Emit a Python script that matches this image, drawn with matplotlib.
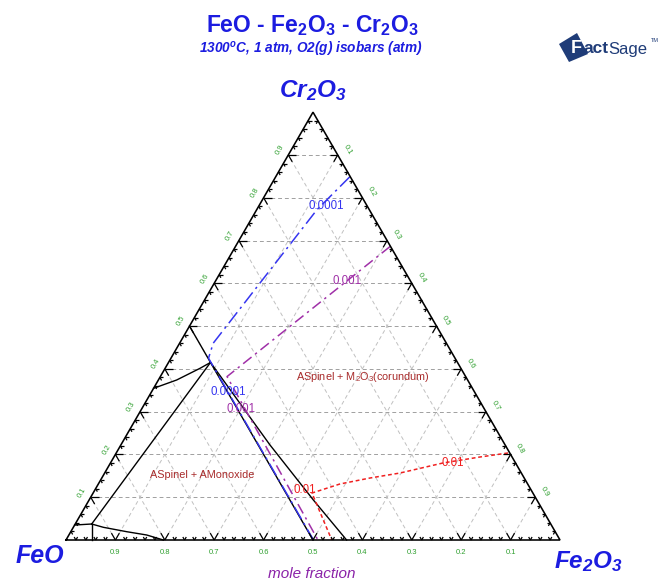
import numpy as np
import matplotlib
matplotlib.use('Agg')
import matplotlib.pyplot as plt
from matplotlib.collections import LineCollection
from matplotlib.patches import Polygon

plt.rcParams['font.family'] = ['Liberation Sans', 'DejaVu Sans']
plt.rcParams['mathtext.default'] = 'regular'

# ---------------- data (mole fractions: Cr2O3 = c, Fe2O3 = f, FeO = 1-c-f) -------------
grid_values = [0.1, 0.2, 0.3, 0.4, 0.5, 0.6, 0.7, 0.8, 0.9]
tick_labels = ['0.1', '0.2', '0.3', '0.4', '0.5', '0.6', '0.7', '0.8', '0.9']

# phase boundaries (black)
spinel_cr = [0.50, 0.0]
spinel_fe = [0.00, 0.50]
right_bnd_cr = [0.415, 0.222, 0.0935, 0.0]
right_bnd_fe = [0.085, 0.302, 0.454, 0.568]
upper_left_cr = [0.3546, 0.374, 0.4013, 0.415]
upper_left_fe = [0.0, 0.037, 0.0706, 0.085]
mono_bnd_cr = [0.415, 0.0374]
mono_bnd_fe = [0.085, 0.0333]
corner_left_cr = [0.0374, 0.035]
corner_left_fe = [0.0333, 0.0]
corner_vert_cr = [0.0374, 0.0]
corner_vert_fe = [0.0333, 0.052]
corner_curve_cr = [0.0374, 0.0297, 0.0194, 0.0117, 0.0]
corner_curve_fe = [0.0333, 0.0607, 0.1132, 0.1575, 0.197]

# O2 isobars
iso_1e4_cr = [0.849, 0.772, 0.460, 0.425, 0.0]
iso_1e4_fe = [0.150, 0.122, 0.068, 0.076, 0.501]
iso_1e3_cr = [0.686, 0.382, 0.0]
iso_1e3_fe = [0.313, 0.135, 0.510]
iso_1e2_cr = [0.2034, 0.194, 0.180, 0.1566, 0.1449, 0.1309, 0.1098, 0.0]
iso_1e2_fe = [0.793, 0.741, 0.673, 0.598, 0.543, 0.489, 0.443, 0.538]
iso_names = ['0.0001', '0.001', '0.01']

S3 = np.sqrt(3) / 2


def tern(c, f):
    c = np.asarray(c, float)
    f = np.asarray(f, float)
    return f + c / 2, c * S3


fig = plt.figure(figsize=(6.69, 5.85), dpi=100)
ax = fig.add_axes([0, 0, 1, 1])
X0, Y0, SIDE = 66, 540, 494
W, H = 669, 585
ax.set_xlim(-X0 / SIDE, (W - X0) / SIDE)
ax.set_ylim(-(H - Y0) / SIDE, Y0 / SIDE)
ax.axis('off')


def px(xp, yp):
    return (xp - X0) / SIDE, (Y0 - yp) / SIDE


# grid
for v in grid_values:
    ax.plot(*tern([v, v], [0, 1 - v]), ls=(0, (4, 3)), color='#a0a0a0', lw=0.7, zorder=1)
    ax.plot(*tern([0, 1 - v], [v, v]), ls=(0, (4, 3)), color='#c0c0c0', lw=0.7, zorder=1)
    ax.plot(*tern([0, 1 - v], [1 - v, 0]), ls=(0, (4, 3)), color='#c0c0c0', lw=0.7, zorder=1)

# triangle
ax.plot(*tern([0, 1, 0, 0], [0, 0, 1, 0]), color='black', lw=1.15, zorder=5,
        solid_joinstyle='miter')

# ticks
segs = []
for i in range(1, 50):
    t = i * 0.02
    L = 0.016 if i % 5 == 0 else 0.007
    pairs = [((t, 0), (t, L)), ((t, 0), (t - L, L)),
             ((0, t), (L, t)), ((0, t), (L, t - L)),
             ((t, 1 - t), (t, 1 - t - L)), ((t, 1 - t), (t - L, 1 - t))]
    for (c1, f1), (c2, f2) in pairs:
        x1, y1 = tern(c1, f1)
        x2, y2 = tern(c2, f2)
        segs.append([(x1, y1), (x2, y2)])
ax.add_collection(LineCollection(segs, colors='black', linewidths=0.9, zorder=5))

# tick labels
green = '#30a030'
for v, lab in zip(grid_values, tick_labels):
    x, y = tern(0, v)
    ax.text(x, y - 13 / SIDE, f'{1 - v:.1f}', color=green, fontsize=5.5,
            ha='center', va='center')
    x, y = tern(v, 0)
    d = 10 / SIDE
    ax.text(x - 0.866 * d, y + 0.5 * d, lab, color=green, fontsize=5.5,
            ha='center', va='center', rotation=60)
    x, y = tern(1 - v, v)
    d = 11 / SIDE
    ax.text(x + 0.866 * d, y + 0.5 * d, lab, color=green, fontsize=5.5,
            ha='center', va='center', rotation=-60)

# phase boundaries
for cr, fe in [(spinel_cr, spinel_fe), (right_bnd_cr, right_bnd_fe),
               (upper_left_cr, upper_left_fe), (mono_bnd_cr, mono_bnd_fe),
               (corner_left_cr, corner_left_fe), (corner_vert_cr, corner_vert_fe),
               (corner_curve_cr, corner_curve_fe)]:
    ax.plot(*tern(cr, fe), color='black', lw=1.0, zorder=3)

# isobars
blue = '#3535f0'
purple = '#a030a8'
red = '#f02020'
ax.plot(*tern(iso_1e4_cr, iso_1e4_fe), color=blue, lw=1.1, ls=(0, (9, 3, 1.5, 3)), zorder=4)
ax.plot(*tern(iso_1e3_cr, iso_1e3_fe), color=purple, lw=1.1, ls=(0, (7, 3, 1.5, 3)), zorder=4)
ax.plot(*tern(iso_1e2_cr, iso_1e2_fe), color=red, lw=1.1, ls=(0, (2.5, 1.8)), zorder=4)

for (xp, yp), col, name in [((326, 206), blue, iso_names[0]), ((228, 392), blue, iso_names[0]),
                            ((347, 281), purple, iso_names[1]), ((241, 409), purple, iso_names[1]),
                            ((453, 463), red, iso_names[2]), ((305, 490), red, iso_names[2])]:
    ax.text(*px(xp, yp), name, color=col, fontsize=8.3, ha='center', va='center', zorder=6)

# phase labels
dark_red = '#a82a2a'
ax.text(*px(202, 475), 'ASpinel + AMonoxide', color=dark_red, fontsize=7.8,
        ha='center', va='center', zorder=6)
ax.text(*px(363, 377), 'ASpinel + M$_2$O$_3$(corundum)', color=dark_red, fontsize=7.8,
        ha='center', va='center', zorder=6)

# titles and corner labels
title_blue = '#1c1ce0'


def ftext(xp, yp, s, **kw):
    fig.text(xp / W, 1 - yp / H, s, ha='center', va='center', **kw)


ftext(312, 26, 'FeO - Fe$_2$O$_3$ - Cr$_2$O$_3$', color=title_blue, fontsize=16.5,
      fontweight='bold')
ftext(311, 49, '1300$^{o}$C, 1 atm, O2(g) isobars (atm)', color=title_blue, fontsize=9.8,
      fontweight='bold', fontstyle='italic')
ftext(313, 91, 'Cr$_2$O$_3$', color=title_blue, fontsize=17.5, fontweight='bold',
      fontstyle='italic')
ftext(40, 556, 'FeO', color=title_blue, fontsize=18, fontweight='bold', fontstyle='italic')
ftext(588, 562, 'Fe$_2$O$_3$', color=title_blue, fontsize=17.5, fontweight='bold',
      fontstyle='italic')
ftext(312, 574, 'mole fraction', color='#8a22a8', fontsize=11, fontstyle='italic')

# FactSage logo
navy = '#1f3c78'
poly_px = [(559, 44), (577, 33), (588, 54), (569, 62)]
poly = Polygon([px(a, b) for a, b in poly_px], closed=True, facecolor=navy,
               edgecolor='none', zorder=6)
ax.add_patch(poly)
ax.text(*px(576, 48), 'F', color='white', fontsize=13, fontweight='bold',
        ha='center', va='center', zorder=7)
ax.text(*px(583, 48), 'act', color=navy, fontsize=12.5, fontweight='bold',
        ha='left', va='center', zorder=7)
ax.text(*px(608, 49), 'Sage', color=navy, fontsize=12, ha='left', va='center', zorder=7)
ax.text(*px(651, 40), 'TM', color=navy, fontsize=4, ha='left', va='center', zorder=7)

fig.savefig('out.png', dpi=100)
